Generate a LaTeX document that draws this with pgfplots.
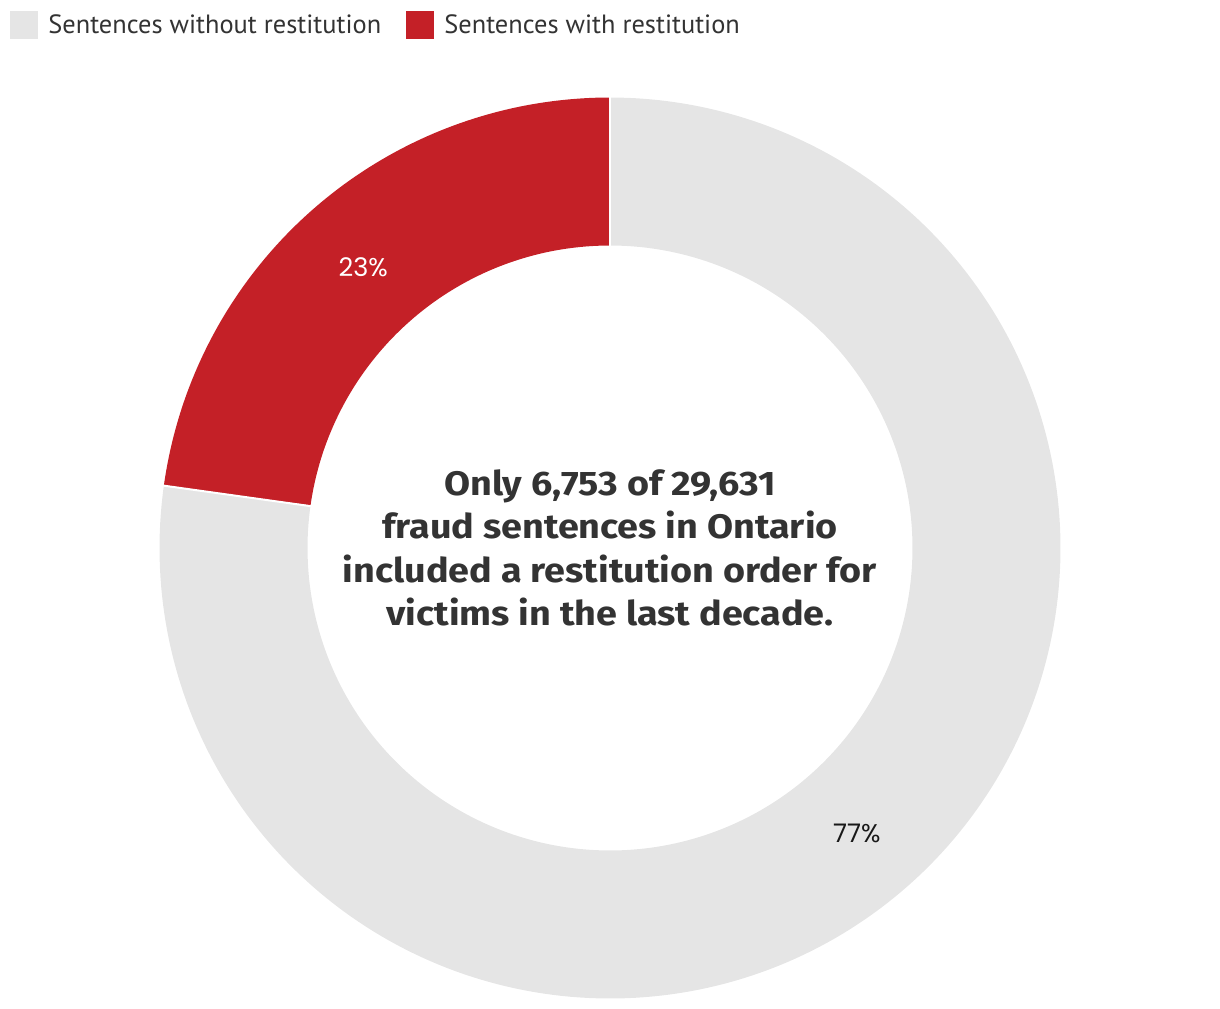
\documentclass[border=0pt]{standalone}
\usepackage{pgfplots}
\pgfplotsset{compat=1.18}
\usepackage{pgfplotstable}
\usepackage{fontspec}
\setmainfont{PT Sans}
\newfontfamily\pctfont{Poppins}
\newfontfamily\boldfont[FakeStretch=1.11]{Fira Sans}
\definecolor{ringgray}{HTML}{E5E5E5}
\definecolor{ringred}{HTML}{C42027}
\definecolor{txt}{HTML}{333333}

\pgfplotstableread{
label value
without 22878
with 6753
}\fraud
\pgfplotstablegetelem{0}{value}\of\fraud \edef\vwithout{\pgfplotsretval}
\pgfplotstablegetelem{1}{value}\of\fraud \edef\vwith{\pgfplotsretval}
\edef\angsplit{\fpeval{round(90+360*\vwith/(\vwith+\vwithout),3)}}
\edef\midred{\fpeval{(90+\angsplit)/2}}
\edef\midgray{\fpeval{(\angsplit+450)/2}}

\begin{document}
\begin{tikzpicture}
\begin{axis}[
  scale only axis, width=610pt, height=504pt,
  xmin=-610, xmax=610, ymin=-460, ymax=548,
  hide axis, clip=false,
]
\path (axis cs:-610,-460) rectangle (axis cs:610,548);
\addplot[ringred, line width=74pt, domain=90:\angsplit, samples=90, line join=round] ({376.5*cos(x)},{376.5*sin(x)});
\addplot[ringgray, line width=74pt, domain=\angsplit:450, samples=240, line join=round] ({376.5*cos(x)},{376.5*sin(x)});
\addplot[white, line width=1pt, domain=302:451, samples=2] ({x*cos(90)},{x*sin(90)});
\addplot[white, line width=1pt, domain=302:451, samples=2] ({x*cos(\angsplit)},{x*sin(\angsplit)});

\node[text=white, font=\pctfont\fontsize{12.8pt}{14pt}\selectfont, yshift=-1.5pt] at (axis cs:{376*cos(\midred)},{376*sin(\midred)}) {23\%};
\node[text=black!90, font=\pctfont\fontsize{12.8pt}{14pt}\selectfont, yshift=-1pt] at (axis cs:{376*cos(\midgray)},{376*sin(\midgray)}) {77\%};

\node[align=center, text=txt, font=\boldfont\bfseries\fontsize{17pt}{21.75pt}\selectfont] at (axis cs:0,0) {Only 6,753 of 29,631\\fraud sentences in Ontario\\included a restitution order for\\victims in the last decade.};

\node[fill=ringgray, minimum size=14pt, inner sep=0pt, anchor=north west] at (axis cs:-600,537) {};
\node[anchor=west, inner sep=0pt, text=txt, font=\fontsize{13.2pt}{15pt}\selectfont] at (axis cs:-562,523.5) {Sentences without restitution};
\node[fill=ringred, minimum size=14pt, inner sep=0pt, anchor=north west] at (axis cs:-204,537) {};
\node[anchor=west, inner sep=0pt, text=txt, font=\fontsize{13.2pt}{15pt}\selectfont] at (axis cs:-166,523.5) {Sentences with restitution};
\end{axis}
\end{tikzpicture}
\end{document}
